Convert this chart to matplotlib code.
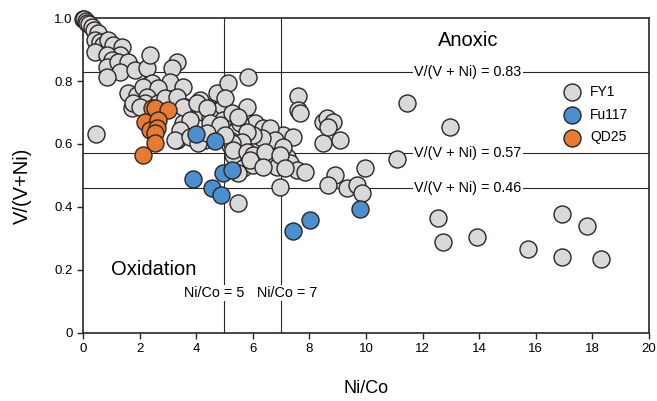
import matplotlib.pyplot as plt
import numpy as np

plt.rcParams['font.family'] = ['Liberation Sans', 'DejaVu Sans']

# FY1 samples (Ni/Co, V/(V+Ni))
fy1_x = [0.00, 0.04, 0.11, 0.14, 0.21, 0.32, 0.39, 0.53, 0.42, 0.60, 0.71, 0.88, 1.06, 1.38,
         1.31, 0.42, 0.85, 1.02, 0.85, 1.24, 1.59, 1.31, 0.85, 1.84, 2.26, 2.37, 3.32, 3.14,
         2.30, 2.44, 1.59, 1.91, 3.07, 3.53, 2.12, 2.65, 2.26, 1.73, 2.19, 2.65, 2.90, 3.32,
         3.60, 4.13, 4.73, 5.12, 5.83, 4.24, 4.49, 4.77, 5.02, 5.19, 5.80, 6.08, 6.36, 6.68,
         7.07, 7.42, 7.60, 7.60, 0.46, 3.32, 3.60, 3.53, 4.31, 5.19, 5.90, 5.65, 6.15, 6.61,
         6.86, 7.21, 7.31, 7.56, 1.77, 2.01, 3.53, 4.03, 4.84, 4.49, 3.78, 3.43, 3.25, 3.78,
         4.06, 4.49, 4.95, 5.55, 5.80, 5.19, 5.97, 5.30, 5.65, 6.01, 5.48, 5.02, 4.38, 5.27,
         5.48, 6.61, 6.78, 6.33, 6.01, 5.80, 5.62, 5.27, 5.30, 5.80, 6.01, 6.43, 5.90, 6.36,
         7.07, 6.96, 7.14, 7.84, 8.48, 8.48, 8.62, 7.67, 4.49, 4.84, 4.38, 5.02, 8.83, 8.66,
         9.08, 6.96, 9.96, 8.90, 8.66, 9.33, 9.68, 9.86, 5.48,
         11.45, 12.97, 11.10, 12.54, 12.72, 13.92, 15.72, 16.93, 16.93, 17.81, 18.30]
fy1_y = [0.997, 0.997, 0.990, 0.984, 0.981, 0.971, 0.962, 0.952, 0.930, 0.924, 0.914, 0.930, 0.914, 0.908,
         0.883, 0.892, 0.883, 0.867, 0.844, 0.860, 0.860, 0.829, 0.813, 0.835, 0.841, 0.883, 0.860, 0.841,
         0.787, 0.794, 0.762, 0.756, 0.797, 0.781, 0.781, 0.778, 0.749, 0.714, 0.730, 0.730, 0.746, 0.749,
         0.717, 0.740, 0.762, 0.794, 0.813, 0.702, 0.714, 0.708, 0.683, 0.692, 0.717, 0.667, 0.651, 0.629,
         0.629, 0.622, 0.752, 0.708, 0.632, 0.613, 0.638, 0.667, 0.613, 0.613, 0.565, 0.543, 0.540, 0.549,
         0.527, 0.559, 0.540, 0.517, 0.730, 0.717, 0.717, 0.730, 0.708, 0.686, 0.676, 0.644, 0.613, 0.622,
         0.603, 0.644, 0.676, 0.667, 0.622, 0.597, 0.581, 0.565, 0.524, 0.533, 0.508, 0.746, 0.714, 0.698,
         0.686, 0.651, 0.613, 0.619, 0.629, 0.638, 0.606, 0.603, 0.581, 0.575, 0.565, 0.575, 0.549, 0.527,
         0.590, 0.565, 0.524, 0.511, 0.603, 0.670, 0.683, 0.698, 0.667, 0.660, 0.635, 0.629, 0.670, 0.654,
         0.613, 0.463, 0.524, 0.502, 0.470, 0.460, 0.470, 0.444, 0.413,
         0.730, 0.654, 0.552, 0.365, 0.289, 0.305, 0.267, 0.378, 0.241, 0.340, 0.235]

# Fu117 samples
fu_x = [3.99, 4.66, 3.89, 4.56, 4.88, 4.95, 5.27, 9.79, 8.02, 7.42]
fu_y = [0.632, 0.610, 0.489, 0.460, 0.438, 0.508, 0.517, 0.394, 0.359, 0.325]

# QD25 samples
qd_x = [2.44, 2.54, 3.00, 2.19, 2.37, 2.65, 2.61, 2.54, 2.54, 2.12]
qd_y = [0.714, 0.714, 0.708, 0.670, 0.644, 0.676, 0.650, 0.635, 0.603, 0.565]

h_lines = [0.83, 0.57, 0.46]
v_lines = [5, 7]

edge = '#2b2523'
box = dict(facecolor='white', edgecolor='none', pad=1.0)
fig = plt.figure(figsize=(6.57, 4.01), dpi=100)
ax = fig.add_axes([0.1263, 0.1696, 0.8615, 0.7855])

for yv in h_lines:
    ax.axhline(yv, color=edge, lw=0.8, zorder=1)
    ax.text(13.6, yv, 'V/(V + Ni) = %.2f' % yv, ha='center', va='center',
            fontsize=10.4, bbox=box, zorder=2)
for xv in v_lines:
    ax.axvline(xv, color=edge, lw=0.8, zorder=1)
ax.text(4.63, 0.127, 'Ni/Co = 5', ha='center', va='center', fontsize=10.4, bbox=box, zorder=2)
ax.text(7.21, 0.127, 'Ni/Co = 7', ha='center', va='center', fontsize=10.4, bbox=box, zorder=2)

ms = 150
ax.scatter(fy1_x, fy1_y, s=ms, c='#d9d9d9', edgecolors=edge, linewidths=1.0,
           label='FY1', zorder=3, clip_on=False)
ax.scatter(fu_x, fu_y, s=ms, c='#4a8fcf', edgecolors=edge, linewidths=1.0,
           label='Fu117', zorder=4, clip_on=False)
ax.scatter(qd_x, qd_y, s=ms, c='#e87b30', edgecolors=edge, linewidths=1.0,
           label='QD25', zorder=5, clip_on=False)

ax.text(13.6, 0.93, 'Anoxic', ha='center', va='center', fontsize=14.5)
ax.text(2.51, 0.2, 'Oxidation', ha='center', va='center', fontsize=14.5)

ax.set_xlim(0, 20)
ax.set_ylim(0, 1.0)
ax.set_xticks(np.arange(0, 21, 2))
ax.set_yticks([0, 0.2, 0.4, 0.6, 0.8, 1.0])
ax.set_yticklabels(['0', '0.2', '0.4', '0.6', '0.8', '1.0'])
ax.tick_params(direction='out', length=4, width=1, labelsize=9.5, color=edge)
for sp in ax.spines.values():
    sp.set_color(edge)
    sp.set_linewidth(1.2)

ax.set_xlabel('Ni/Co', fontsize=13, labelpad=18)
ax.set_ylabel('V/(V+Ni)', fontsize=14.5)
ax.yaxis.set_label_coords(-0.09, 0.467)

leg = ax.legend(loc='upper left', bbox_to_anchor=(0.83, 0.805), frameon=False,
                fontsize=10, labelspacing=0.63, handletextpad=0.3, borderaxespad=0)

fig.savefig('out.png', dpi=100)
